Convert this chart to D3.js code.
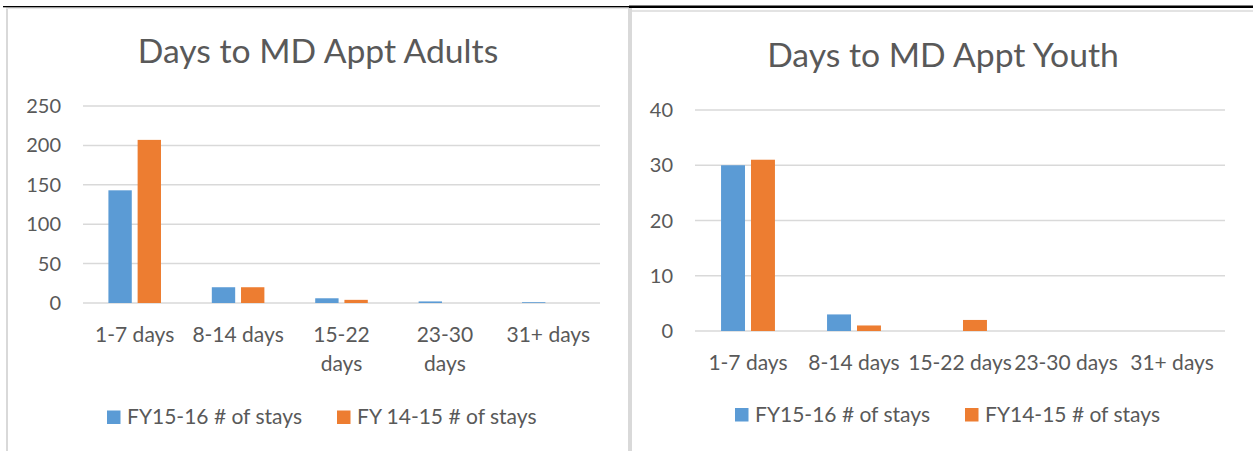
<!DOCTYPE html>
<html>
<head>
<meta charset="utf-8">
<script src="https://cdn.jsdelivr.net/npm/d3@7"></script>
<style>
  body { margin: 0; background: #fff; }
  svg text { font-family: Lato, "Open Sans", sans-serif; fill: #595959; }
</style>
</head>
<body>
<div id="charts"></div>
<script>
// datos
const categories = ["1-7 days", "8-14 days", "15-22 days", "23-30 days", "31+ days"];
const adultLabels = [["1-7 days"], ["8-14 days"], ["15-22", "days"], ["23-30", "days"], ["31+ days"]];
const youthLabels = [["1-7 days"], ["8-14 days"], ["15-22 days"], ["23-30 days"], ["31+ days"]];

const adultFY1516 = [143, 20, 6, 2, 1];
const adultFY1415 = [207, 20, 4, 0, 0];
const youthFY1516 = [30, 3, 0, 0, 0];
const youthFY1415 = [31, 1, 2, 0, 0];

const adultTicks = [0, 50, 100, 150, 200, 250];
const youthTicks = [0, 10, 20, 30, 40];

const adultSeries = ["FY15-16 # of stays", "FY 14-15 # of stays"];
const youthSeries = ["FY15-16 # of stays", "FY14-15 # of stays"];

const colores = ["#5B9BD5", "#ED7D31"];

const W = 1253, H = 451;
const svg = d3.select("#charts").append("svg").attr("width", W).attr("height", H);

// marcos de los paneles
svg.append("rect").attr("x", 6).attr("y", 7).attr("width", 2).attr("height", H).attr("fill", "#d9d9d9");
svg.append("rect").attr("x", 6).attr("y", 7).attr("width", 622).attr("height", 2).attr("fill", "#e6e6e6");
svg.append("rect").attr("x", 628).attr("y", 7).attr("width", 4).attr("height", H).attr("fill", "#d9d9d9");
svg.append("rect").attr("x", 632).attr("y", 10).attr("width", W - 632).attr("height", 2).attr("fill", "#e3e3e3");
svg.append("rect").attr("x", 3).attr("y", 6).attr("width", 626).attr("height", 1.3).attr("fill", "#000");
svg.append("rect").attr("x", 629).attr("y", 5.5).attr("width", W - 629).attr("height", 2.5).attr("fill", "#000");

// funcion que dibuja cada grafica
const dibujar = (cfg) => {
  const g = svg.append("g");

  const x0 = d3.scaleBand().domain(categories).range([cfg.left, cfg.right]);
  const x1 = d3.scaleBand().domain([0, 1]).range([0, x0.bandwidth()]).paddingInner(0.2).paddingOuter(0.87);
  const y = d3.scaleLinear().domain([0, d3.max(cfg.ticks)]).range([cfg.bottom, cfg.top]);

  g.append("text")
    .attr("x", cfg.titleX)
    .attr("y", cfg.titleY)
    .attr("text-anchor", "middle")
    .style("font-size", "33.7px")
    .text(cfg.title);

  // lineas de la cuadricula
  g.selectAll(".grid")
    .data(cfg.ticks)
    .enter()
    .append("line")
    .attr("x1", cfg.left)
    .attr("x2", cfg.right)
    .attr("y1", (d) => y(d))
    .attr("y2", (d) => y(d))
    .attr("stroke", "#d9d9d9")
    .attr("stroke-width", 1.5);

  g.selectAll(".ytick")
    .data(cfg.ticks)
    .enter()
    .append("text")
    .attr("x", cfg.labelX)
    .attr("y", (d) => y(d) + 7)
    .attr("text-anchor", "end")
    .style("font-size", "20px")
    .text((d) => d);

  // barras
  const series = [cfg.s1, cfg.s2];
  series.forEach((vals, i) => {
    g.selectAll(".bar" + i)
      .data(vals)
      .enter()
      .append("rect")
      .attr("x", (d, j) => x0(categories[j]) + x1(i))
      .attr("width", x1.bandwidth())
      .attr("y", (d) => y(d))
      .attr("height", (d) => cfg.bottom - y(d))
      .attr("fill", colores[i]);
  });

  // etiquetas de categorias
  const lab = g.selectAll(".xlab")
    .data(cfg.labels)
    .enter()
    .append("text")
    .attr("text-anchor", "middle")
    .style("font-size", "21px");
  lab.each(function (lines, j) {
    d3.select(this)
      .selectAll("tspan")
      .data(lines)
      .enter()
      .append("tspan")
      .attr("x", x0(categories[j]) + x0.bandwidth() / 2)
      .attr("y", (d, k) => cfg.bottom + 39 + k * 28.6)
      .text((d) => d);
  });

  // leyenda
  const leg = g.selectAll(".leg")
    .data(cfg.names)
    .enter()
    .append("g")
    .attr("transform", (d, i) => `translate(${cfg.legendX[i]}, ${cfg.legendY})`);
  leg.append("rect")
    .attr("x", 0)
    .attr("y", -13.5)
    .attr("width", 13.5)
    .attr("height", 13.5)
    .attr("fill", (d, i) => colores[i]);
  leg.append("text")
    .attr("x", 20)
    .attr("y", 0)
    .style("font-size", "21px")
    .text((d) => d);
};

dibujar({
  title: "Days to MD Appt Adults", titleX: 318, titleY: 63,
  left: 83, right: 600, top: 106, bottom: 303, labelX: 61,
  ticks: adultTicks, s1: adultFY1516, s2: adultFY1415, labels: adultLabels,
  names: adultSeries, legendX: [107, 337], legendY: 424
});

dibujar({
  title: "Days to MD Appt Youth", titleX: 943, titleY: 67,
  left: 695, right: 1225, top: 110, bottom: 331, labelX: 673,
  ticks: youthTicks, s1: youthFY1516, s2: youthFY1415, labels: youthLabels,
  names: youthSeries, legendX: [735, 965], legendY: 421.5
});
</script>
</body>
</html>
